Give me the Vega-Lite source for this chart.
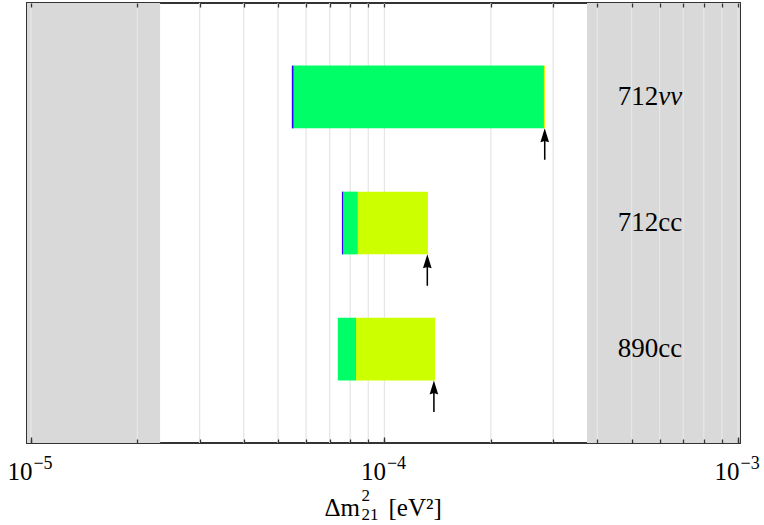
{
  "$schema": "https://vega.github.io/schema/vega-lite/v6.json",
  "width": 713,
  "height": 440,
  "autosize": {"type": "none"},
  "padding": {"left": 27, "top": 3, "right": 24, "bottom": 82},
  "background": "white",
  "config": {
    "view": {"stroke": "#333333", "strokeWidth": 2},
    "font": "Liberation Serif"
  },
  "datasets": {
    "bands": [
      {"lo": 9.75e-6, "hi": 2.32e-5},
      {"lo": 3.74e-4, "hi": 1.013e-3}
    ],
    "grid": [
      {"v": 1e-5}, {"v": 2e-5}, {"v": 3e-5}, {"v": 4e-5}, {"v": 5e-5}, {"v": 6e-5}, {"v": 7e-5}, {"v": 8e-5}, {"v": 9e-5},
      {"v": 1e-4}, {"v": 2e-4}, {"v": 3e-4}, {"v": 4e-4}, {"v": 5e-4}, {"v": 6e-4}, {"v": 7e-4}, {"v": 8e-4}, {"v": 9e-4},
      {"v": 1e-3}
    ],
    "segments": [
      {"row": "712νν", "lo": 5.47e-5, "hi": 5.54e-5, "level": "a"},
      {"row": "712νν", "lo": 5.54e-5, "hi": 2.826e-4, "level": "b"},
      {"row": "712νν", "lo": 2.826e-4, "hi": 2.845e-4, "level": "d"},
      {"row": "712cc", "lo": 7.58e-5, "hi": 7.66e-5, "level": "a"},
      {"row": "712cc", "lo": 7.66e-5, "hi": 8.41e-5, "level": "b"},
      {"row": "712cc", "lo": 8.41e-5, "hi": 1.327e-4, "level": "c"},
      {"row": "890cc", "lo": 7.38e-5, "hi": 8.31e-5, "level": "b"},
      {"row": "890cc", "lo": 8.31e-5, "hi": 1.39e-4, "level": "c"}
    ],
    "limits": [
      {"row": "712νν", "limit": 2.84e-4},
      {"row": "712cc", "limit": 1.322e-4},
      {"row": "890cc", "limit": 1.38e-4}
    ],
    "labels": [
      {"row": "712νν", "num": "712", "suffix": "νν"},
      {"row": "712cc", "num": "712", "suffix": "cc"},
      {"row": "890cc", "num": "890", "suffix": "cc"}
    ]
  },
  "layer": [
    {
      "data": {"name": "bands"},
      "mark": {"type": "rect", "color": "#d9d9d9"},
      "encoding": {
        "x": {
          "field": "lo", "type": "quantitative",
          "scale": {"type": "log", "domain": [9.75e-6, 1.013e-3], "nice": false},
          "axis": {
            "orient": "bottom",
            "zindex": 1,
            "values": [1e-5, 2e-5, 3e-5, 4e-5, 5e-5, 6e-5, 7e-5, 8e-5, 9e-5, 1e-4, 2e-4, 3e-4, 4e-4, 5e-4, 6e-4, 7e-4, 8e-4, 9e-4, 1e-3],
            "labelExpr": "(datum.value == 0.00001 || datum.value == 0.0001 || datum.value == 0.001) ? '10' : ''",
            "grid": false,
            "domain": false,
            "tickSize": -4,
            "tickColor": "#333333",
            "tickWidth": 1.3,
            "labelFont": "Liberation Serif",
            "labelFontSize": 25,
            "labelColor": "black",
            "labelAlign": "right",
            "labelOffset": 1,
            "labelBaseline": "alphabetic",
            "labelPadding": 40.5,
            "labelFlush": false,
            "labelOverlap": false,
            "title": "Δm",
            "titleFont": "Liberation Serif",
            "titleFontSize": 25,
            "titleFontWeight": "normal",
            "titleColor": "black",
            "titleAlign": "left",
            "titleAnchor": "start",
            "titleBaseline": "alphabetic",
            "titleX": 297,
            "titleY": 72
          }
        },
        "x2": {"field": "hi"}
      }
    },
    {
      "data": {"name": "grid"},
      "mark": {"type": "rule", "color": "#e6e6e6", "strokeWidth": 1.3},
      "encoding": {
        "x": {
          "field": "v", "type": "quantitative",
          "axis": {
            "orient": "top",
            "zindex": 1,
            "values": [1e-5, 2e-5, 3e-5, 4e-5, 5e-5, 6e-5, 7e-5, 8e-5, 9e-5, 1e-4, 2e-4, 3e-4, 4e-4, 5e-4, 6e-4, 7e-4, 8e-4, 9e-4, 1e-3],
            "labels": false,
            "grid": false,
            "domain": false,
            "tickSize": -4,
            "tickColor": "#333333",
            "tickWidth": 1.3,
            "title": "[eV²]",
            "titleFont": "Liberation Serif",
            "titleFontSize": 25,
            "titleFontWeight": "normal",
            "titleColor": "black",
            "titleAlign": "left",
            "titleAnchor": "start",
            "titleBaseline": "alphabetic",
            "titleX": 361,
            "titleY": 512
          }
        }
      }
    },
    {
      "data": {"name": "segments"},
      "mark": {"type": "rect"},
      "encoding": {
        "x": {"field": "lo", "type": "quantitative", "axis": null},
        "x2": {"field": "hi"},
        "y": {
          "field": "row", "type": "nominal",
          "scale": {"domain": ["712νν", "712cc", "890cc"], "paddingInner": 0.502, "paddingOuter": 0.497},
          "axis": null
        },
        "color": {
          "field": "level", "type": "nominal",
          "scale": {"domain": ["a", "b", "c", "d"], "range": ["#2f00ff", "#00ff66", "#ccff00", "#f2f000"]},
          "legend": null
        }
      }
    },
    {
      "data": {"name": "limits"},
      "mark": {
        "type": "point",
        "shape": "M0,0L0.62,2L0.11,1.85L0.11,4.5L-0.11,4.5L-0.11,1.85L-0.62,2Z",
        "filled": true,
        "color": "black",
        "opacity": 1,
        "size": 196,
        "strokeWidth": 0
      },
      "encoding": {
        "x": {
          "field": "limit", "type": "quantitative",
          "axis": {
            "orient": "bottom",
            "zindex": 1,
            "values": [1e-5, 1e-4, 1e-3],
            "labelExpr": "datum.value == 0.00001 ? '−5' : datum.value == 0.0001 ? '−4' : '−3'",
            "grid": false,
            "domain": false,
            "tickSize": -6,
            "tickColor": "#333333",
            "tickWidth": 1.3,
            "labelFont": "Liberation Serif",
            "labelFontSize": 18,
            "labelColor": "black",
            "labelAlign": "left",
            "labelOffset": 2,
            "labelBaseline": "alphabetic",
            "labelPadding": 31,
            "labelFlush": false,
            "labelOverlap": false,
            "title": ["2", "21"],
            "titleFont": "Liberation Serif",
            "titleFontSize": 17,
            "titleFontWeight": "normal",
            "titleColor": "black",
            "titleAlign": "left",
            "titleAnchor": "start",
            "titleBaseline": "alphabetic",
            "titleLineHeight": 19,
            "titleX": 334,
            "titleY": 57
          }
        },
        "y": {"field": "row", "type": "nominal", "axis": null, "bandPosition": 1}
      }
    },
    {
      "data": {"name": "labels"},
      "mark": {"type": "text", "align": "left", "baseline": "middle", "font": "Liberation Serif", "fontSize": 27, "color": "black"},
      "encoding": {
        "x": {"datum": 4.57e-4, "type": "quantitative", "axis": null},
        "y": {"field": "row", "type": "nominal", "axis": null},
        "text": {"field": "num"}
      }
    },
    {
      "data": {"name": "labels"},
      "transform": [{"filter": "datum.suffix == 'cc'"}],
      "mark": {"type": "text", "align": "left", "baseline": "middle", "font": "Liberation Serif", "fontSize": 27, "color": "black", "dx": 40.5},
      "encoding": {
        "x": {"datum": 4.57e-4, "type": "quantitative", "axis": null},
        "y": {"field": "row", "type": "nominal", "axis": null},
        "text": {"field": "suffix"}
      }
    },
    {
      "data": {"name": "labels"},
      "transform": [{"filter": "datum.suffix != 'cc'"}],
      "mark": {"type": "text", "align": "left", "baseline": "middle", "font": "Liberation Serif", "fontSize": 27, "fontStyle": "italic", "color": "black", "dx": 40.5},
      "encoding": {
        "x": {"datum": 4.57e-4, "type": "quantitative", "axis": null},
        "y": {"field": "row", "type": "nominal", "axis": null},
        "text": {"field": "suffix"}
      }
    }
  ],
  "resolve": {"axis": {"x": "independent"}}
}
